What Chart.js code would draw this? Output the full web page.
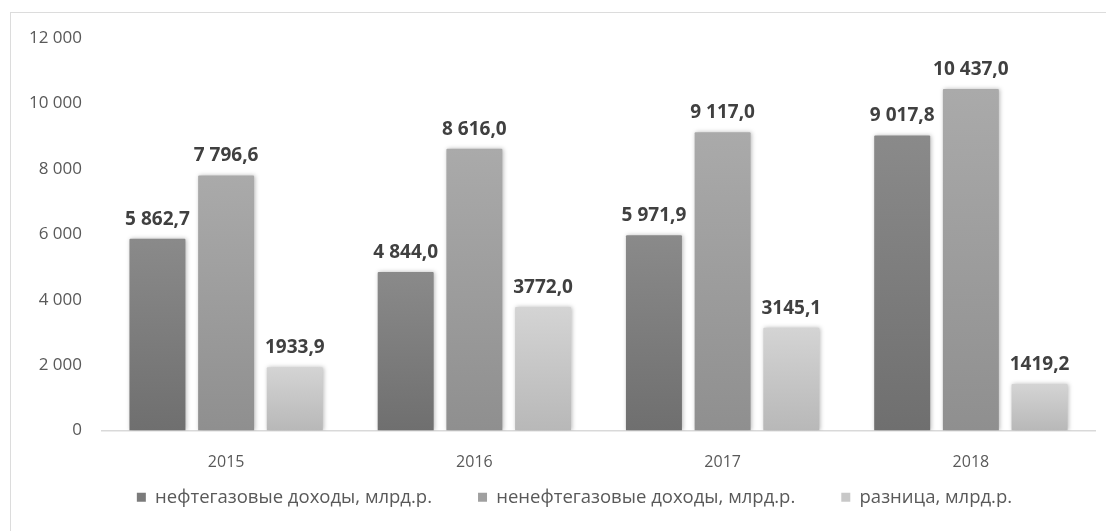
<!DOCTYPE html>
<html>
<head>
<meta charset="utf-8">
<script src="https://cdn.jsdelivr.net/npm/chart.js@4"></script>
<style>
  body { margin: 0; background: #fff; overflow: hidden; }
  #wrap { position: relative; width: 1106px; height: 531px; }
  #frame { position: absolute; left: 10px; top: 12px; width: 1200px; height: 600px; border: 1.5px solid #dcdcdc; }
  #chart { position: absolute; left: 0; top: 0; }
</style>
</head>
<body>
<div id="wrap">
  <div id="frame"></div>
  <canvas id="chart" width="1106" height="531"></canvas>
</div>
<script>
// données
const years = ['2015', '2016', '2017', '2018'];
const seriesNames = ['нефтегазовые доходы, млрд.р.', 'ненефтегазовые доходы, млрд.р.', 'разница, млрд.р.'];
const oilGas = [5862.7, 4844.0, 5971.9, 9017.8];
const nonOilGas = [7796.6, 8616.0, 9117.0, 10437.0];
const difference = [1933.9, 3772.0, 3145.1, 1419.2];
const yTicks = [0, 2000, 4000, 6000, 8000, 10000, 12000];

// couleurs (haut / bas du dégradé)
const topColors = ['#8a8a8a', '#aaaaaa', '#d4d4d4'];
const bottomColors = ['#6f6f6f', '#8f8f8f', '#b8b8b8'];
const legendColors = ['#7b7b7b', '#a0a0a0', '#c8c8c8'];

function groupThousands(str) {
    return str.replace(/\B(?=(\d{3})+(?!\d))/g, ' ');
}

function formatValue(v, grouped) {
    const parts = v.toFixed(1).split('.');
    const intPart = grouped ? groupThousands(parts[0]) : parts[0];
    return intPart + ',' + parts[1];
}

function barGradient(i) {
    return (ctx) => {
        const chart = ctx.chart;
        const area = chart.chartArea;
        if (!area || ctx.type !== 'data') return legendColors[i];
        const top = chart.scales.y.getPixelForValue(ctx.raw);
        const g = chart.ctx.createLinearGradient(0, top, 0, area.bottom);
        g.addColorStop(0, topColors[i]);
        g.addColorStop(1, bottomColors[i]);
        return g;
    };
}

// ombre légère sous les barres
const shadowPlugin = {
    id: 'barShadow',
    beforeDatasetsDraw(chart) {
        const c = chart.ctx;
        c.save();
        c.shadowColor = 'rgba(0,0,0,0.28)';
        c.shadowBlur = 4;
        c.shadowOffsetX = 1;
        c.shadowOffsetY = 0;
    },
    afterDatasetsDraw(chart) {
        chart.ctx.restore();
    }
};

// étiquettes de valeurs au-dessus des barres
const valueLabels = {
    id: 'valueLabels',
    afterDraw(chart) {
        const c = chart.ctx;
        c.save();
        c.font = 'bold 19px "Open Sans"';
        c.fillStyle = '#404040';
        c.textAlign = 'center';
        c.textBaseline = 'bottom';
        chart.data.datasets.forEach((ds, di) => {
            const meta = chart.getDatasetMeta(di);
            meta.data.forEach((bar, idx) => {
                const txt = formatValue(ds.data[idx], di < 2);
                c.fillText(txt, bar.x, bar.y - 10);
            });
        });
        c.restore();
    }
};

// placer la légende (un peu plus haut et décalée à droite), agrandir la zone de l'axe x
const legendPlace = {
    id: 'legendPlace',
    afterLayout(chart) {
        const lg = chart.legend;
        const h = lg.height;
        lg.top = 442;
        lg.bottom = lg.top + h;
        lg.left += 44;
        chart.scales.x.bottom = chart.scales.x.top + 60;
    }
};

const datasets = [oilGas, nonOilGas, difference].map((data, i) => ({
    label: seriesNames[i],
    data: data,
    backgroundColor: barGradient(i),
    borderWidth: 0,
    borderRadius: 1,
    categoryPercentage: 0.83,
    barPercentage: 0.815
}));

const ctx = document.getElementById('chart').getContext('2d');
new Chart(ctx, {
    type: 'bar',
    data: { labels: years, datasets: datasets },
    plugins: [shadowPlugin, valueLabels, legendPlace],
    options: {
        responsive: false,
        animation: false,
        layout: { padding: { left: 10, right: 11, top: 38, bottom: 0 } },
        scales: {
            x: {
                grid: { display: false, drawTicks: false },
                border: { display: true, color: '#d9d9d9', width: 1.5 },
                ticks: { color: '#595959', font: { family: 'Open Sans', size: 16 }, padding: 22 },
                afterFit: (scale) => { scale.height = 26; }
            },
            y: {
                min: 0,
                max: 12000,
                grid: { display: false, drawTicks: false },
                border: { display: false },
                afterBuildTicks: (scale) => { scale.ticks = yTicks.map(v => ({ value: v })); },
                ticks: {
                    color: '#595959',
                    font: { family: 'Open Sans', size: 17 },
                    padding: 20,
                    callback: (v) => groupThousands(String(v))
                },
                afterFit: (scale) => { scale.width = 92; }
            }
        },
        plugins: {
            tooltip: { enabled: false },
            legend: {
                position: 'bottom',
                labels: {
                    boxWidth: 9,
                    boxHeight: 9,
                    padding: 46,
                    color: '#595959',
                    font: { family: 'Open Sans', size: 18.5 },
                    generateLabels: () => seriesNames.map((t, i) => ({
                        text: t,
                        fillStyle: legendColors[i],
                        strokeStyle: legendColors[i],
                        lineWidth: 0,
                        hidden: false,
                        datasetIndex: i,
                        fontColor: '#595959'
                    }))
                }
            }
        }
    }
});
</script>
</body>
</html>
